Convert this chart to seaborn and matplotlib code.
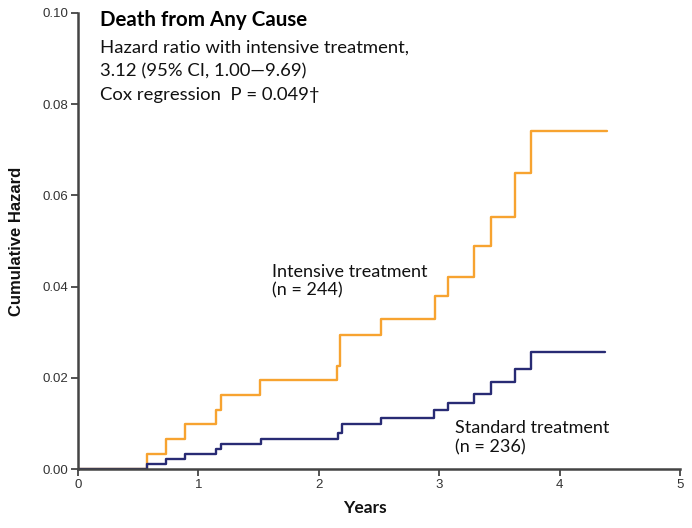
import pandas as pd
import matplotlib
matplotlib.use('Agg')
import matplotlib.pyplot as plt
import seaborn as sns

# Cumulative hazard step curves
intensive_years = [0, 0.576, 0.731, 0.89, 1.147, 1.19, 1.51, 2.153, 2.18, 2.517,
                   2.967, 3.075, 3.289, 3.428, 3.628, 3.759, 4.39]
intensive_hazard = [0, 0.0034, 0.0065, 0.0098, 0.0130, 0.0163, 0.0195, 0.0227, 0.0293, 0.0328,
                    0.0380, 0.0422, 0.0490, 0.0553, 0.0649, 0.0742, 0.0742]
standard_years = [0, 0.576, 0.731, 0.89, 1.15, 1.185, 1.52, 2.16, 2.19, 2.517,
                  2.96, 3.075, 3.29, 3.43, 3.628, 3.76, 4.38]
standard_hazard = [0, 0.0012, 0.0022, 0.0033, 0.0043, 0.0055, 0.0066, 0.0078, 0.0099, 0.0112,
                   0.0129, 0.0145, 0.0165, 0.0190, 0.0220, 0.0256, 0.0256]

groups = ['Intensive treatment', 'Standard treatment']
group_counts = ['(n = 244)', '(n = 236)']
x_ticks = [0, 1, 2, 3, 4, 5]
y_ticks = [0.00, 0.02, 0.04, 0.06, 0.08, 0.10]

title = 'Death from Any Cause'
subtitle = ['Hazard ratio with intensive treatment,',
            '3.12 (95% CI, 1.00\u20149.69)',
            'Cox regression  P = 0.049\u2020']

df = pd.concat([
    pd.DataFrame({'Years': intensive_years, 'Hazard': intensive_hazard, 'Group': groups[0]}),
    pd.DataFrame({'Years': standard_years, 'Hazard': standard_hazard, 'Group': groups[1]}),
])

sns.set_style('white')
plt.rcParams['font.family'] = ['Lato', 'DejaVu Sans']

fig = plt.figure(figsize=(6.92, 5.28), dpi=100)
ax = fig.add_axes([0.1127, 0.1117, 0.870, 0.8637])

palette = {groups[0]: '#F7A330', groups[1]: '#282B74'}
sns.lineplot(data=df, x='Years', y='Hazard', hue='Group', palette=palette,
             drawstyle='steps-post', linewidth=1.7, legend=False, ax=ax)

ax.set_xlim(0, 5)
ax.set_ylim(0, 0.1)
ax.set_xticks(x_ticks)
ax.set_yticks(y_ticks)
ax.set_xticklabels([str(t) for t in x_ticks])
ax.set_yticklabels([f'{t:.2f}' for t in y_ticks])

tick_font = ['Liberation Sans Narrow', 'Liberation Sans', 'DejaVu Sans']
for lab in ax.get_xticklabels() + ax.get_yticklabels():
    lab.set_family(tick_font)
    lab.set_fontsize(9.5)
    lab.set_color('#333333')
ax.tick_params(direction='out', length=5, width=1.3, color='#444444', pad=2,
               bottom=True, left=True)

for side in ['top', 'right']:
    ax.spines[side].set_visible(False)
for side in ['left', 'bottom']:
    ax.spines[side].set_color('#444444')
    ax.spines[side].set_linewidth(1.8)

ax.set_xlabel('Years', fontsize=12.5, fontweight='bold', color='#111111')
ax.xaxis.set_label_coords(0.477, -0.068)
ax.set_ylabel('Cumulative Hazard', fontsize=12, fontweight='bold',
              family=['Liberation Sans', 'DejaVu Sans'], color='#111111')
ax.yaxis.set_label_coords(-0.09, 0.5)

# annotation block (baselines in data units)
ax.text(0.183, 0.0971, title, fontsize=14.8, fontweight='bold', va='baseline', color='black')
for i, line in enumerate(subtitle):
    ax.text(0.183, 0.0914 - i * 0.00525, line, fontsize=13.3, va='baseline', color='#111111')

ax.text(1.611, 0.0421, groups[0], fontsize=13, va='baseline', color='#111111')
ax.text(1.611, 0.0381, group_counts[0], fontsize=13, va='baseline', color='#111111')
ax.text(3.131, 0.0079, groups[1], fontsize=13, va='baseline', color='#111111')
ax.text(3.131, 0.0037, group_counts[1], fontsize=13, va='baseline', color='#111111')

fig.savefig('out.png', dpi=100)
